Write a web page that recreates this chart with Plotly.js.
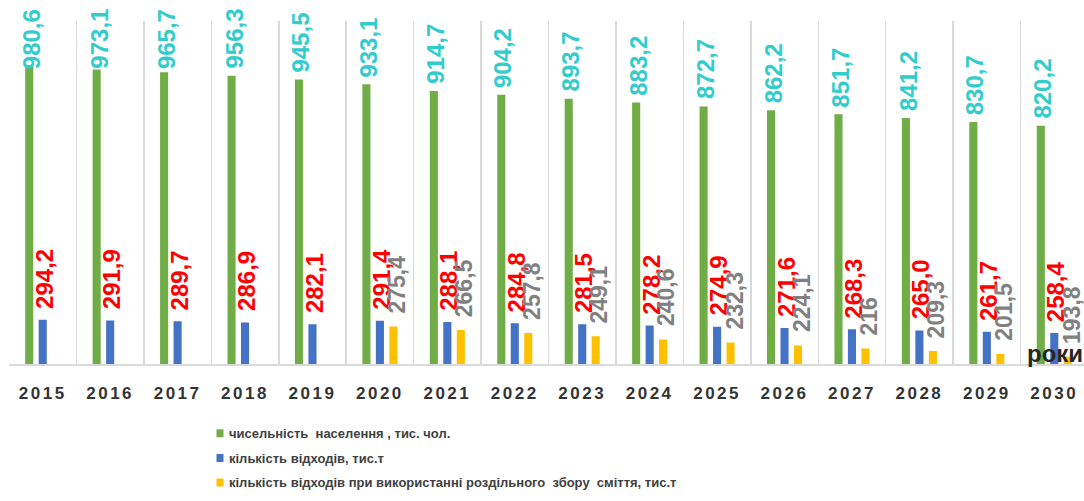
<!DOCTYPE html>
<html><head><meta charset="utf-8">
<script src="https://cdn.plot.ly/plotly-3.0.1.min.js"></script>
<style>
html,body{margin:0;padding:0;overflow:hidden;background:#fff;}
#chart{width:1088px;height:501px;}
.xtick text{letter-spacing:2.5px;}
</style></head><body><div id="chart"></div>
<script>
const years = ['2015','2016','2017','2018','2019','2020','2021','2022','2023','2024','2025','2026','2027','2028','2029','2030'];
const population = [980.6,973.1,965.7,956.3,945.5,933.1,914.7,904.2,893.7,883.2,872.7,862.2,851.7,841.2,830.7,820.2];
const waste = [294.2,291.9,289.7,286.9,282.1,291.4,288.1,284.8,281.5,278.2,274.9,271.6,268.3,265.0,261.7,258.4];
const wasteSeparate = [null,null,null,null,null,275.4,266.5,257.8,249.1,240.6,232.3,224.1,216,209.3,201.5,193.8];
const seriesNames = ['чисельність  населення , тис. чол.','кількість відходів, тис.т','кількість відходів при використанні роздільного  збору  сміття, тис.т'];
const axisTitle = 'роки';

const colors = ['#70AD47','#4472C4','#FFC000'];
const labelColors = ['#33CCCC','#FF0000','#808080'];
const W = 1088, H = 501, M = {l:9, r:0, t:21, b:137};
const pw = W - M.l - M.r, ph = H - M.t - M.b;
const yRange = [174, 1104.5];
const s = ph / (yRange[1] - yRange[0]);
const px2x = px => (px - M.l) / pw;
const py2y = py => (H - M.b - py) / ph;
const FONT = 'Liberation Sans, Arial, sans-serif';

const fmt1 = v => v.toFixed(1).replace('.', ',');
const fmtG = v => String(v).replace('.', ',');

const traces = [population, waste, wasteSeparate].map((arr, i) => ({
  type: 'bar', x: years, y: arr, name: seriesNames[i],
  marker: {color: colors[i]}, showlegend: false, hoverinfo: 'x+y'
}));

const annotations = [];
const clampV = yRange[1] - (76 - M.t) / s;
const specs = [
  {arr: population, f: fmt1, xshift: -11.5, yshift: 6, size: 24, clamp: true},
  {arr: waste, f: fmt1, xshift: 1.5, yshift: 10, size: 24, clamp: false},
  {arr: wasteSeparate, f: fmtG, xshift: 17, yshift: 12, size: 23, clamp: false}
];
specs.forEach((sp, si) => {
  sp.arr.forEach((v, i) => {
    if (v === null) return;
    annotations.push({
      x: i, y: sp.clamp ? Math.min(v, clampV) : v, xref: 'x', yref: 'y',
      text: sp.f(v), showarrow: false, textangle: -90, borderpad: 0,
      xanchor: 'center', yanchor: 'bottom', xshift: sp.xshift, yshift: sp.yshift,
      font: {family: FONT, size: sp.size, color: labelColors[si], weight: 'bold'}
    });
  });
});

annotations.push({
  xref: 'paper', yref: 'paper', x: px2x(1084), y: py2y(368),
  xanchor: 'right', yanchor: 'bottom', showarrow: false, text: axisTitle, borderpad: 0,
  font: {family: FONT, size: 24, color: '#262626', weight: 'bold'}
});

const shapes = [];
const legendY = [433.3, 458, 482.5];
seriesNames.forEach((n, i) => {
  shapes.push({type: 'rect', xref: 'paper', yref: 'paper',
    x0: px2x(216.5), x1: px2x(223.5), y0: py2y(legendY[i] + 4), y1: py2y(legendY[i] - 4),
    fillcolor: colors[i], line: {width: 0}});
  annotations.push({xref: 'paper', yref: 'paper', x: px2x(227), y: py2y(legendY[i]),
    xanchor: 'left', yanchor: 'middle', showarrow: false, text: n,
    font: {family: FONT, size: 13, color: '#404040', weight: 'bold'}});
});

const layout = {
  width: W, height: H, margin: M, paper_bgcolor: '#fff', plot_bgcolor: '#fff',
  barmode: 'group', bargap: 0.4, bargroupgap: 0.4, showlegend: false,
  xaxis: {type: 'category', range: [-0.5, years.length - 0.5], autorange: false, tickson: 'boundaries',
    automargin: false, showgrid: true, gridcolor: '#D9D9D9', gridwidth: 1.5, tickangle: 0,
    showline: true, linecolor: '#D9D9D9', linewidth: 2, ticks: '', ticklabelstandoff: 13,
    tickfont: {family: FONT, size: 17, color: '#333333', weight: 'bold'}, fixedrange: true},
  yaxis: {range: yRange, autorange: false, automargin: false, showgrid: false, zeroline: false, showline: false, showticklabels: false, ticks: '', fixedrange: true},
  annotations: annotations, shapes: shapes
};
Plotly.newPlot('chart', traces, layout, {displayModeBar: false, staticPlot: true});
</script></body></html>
